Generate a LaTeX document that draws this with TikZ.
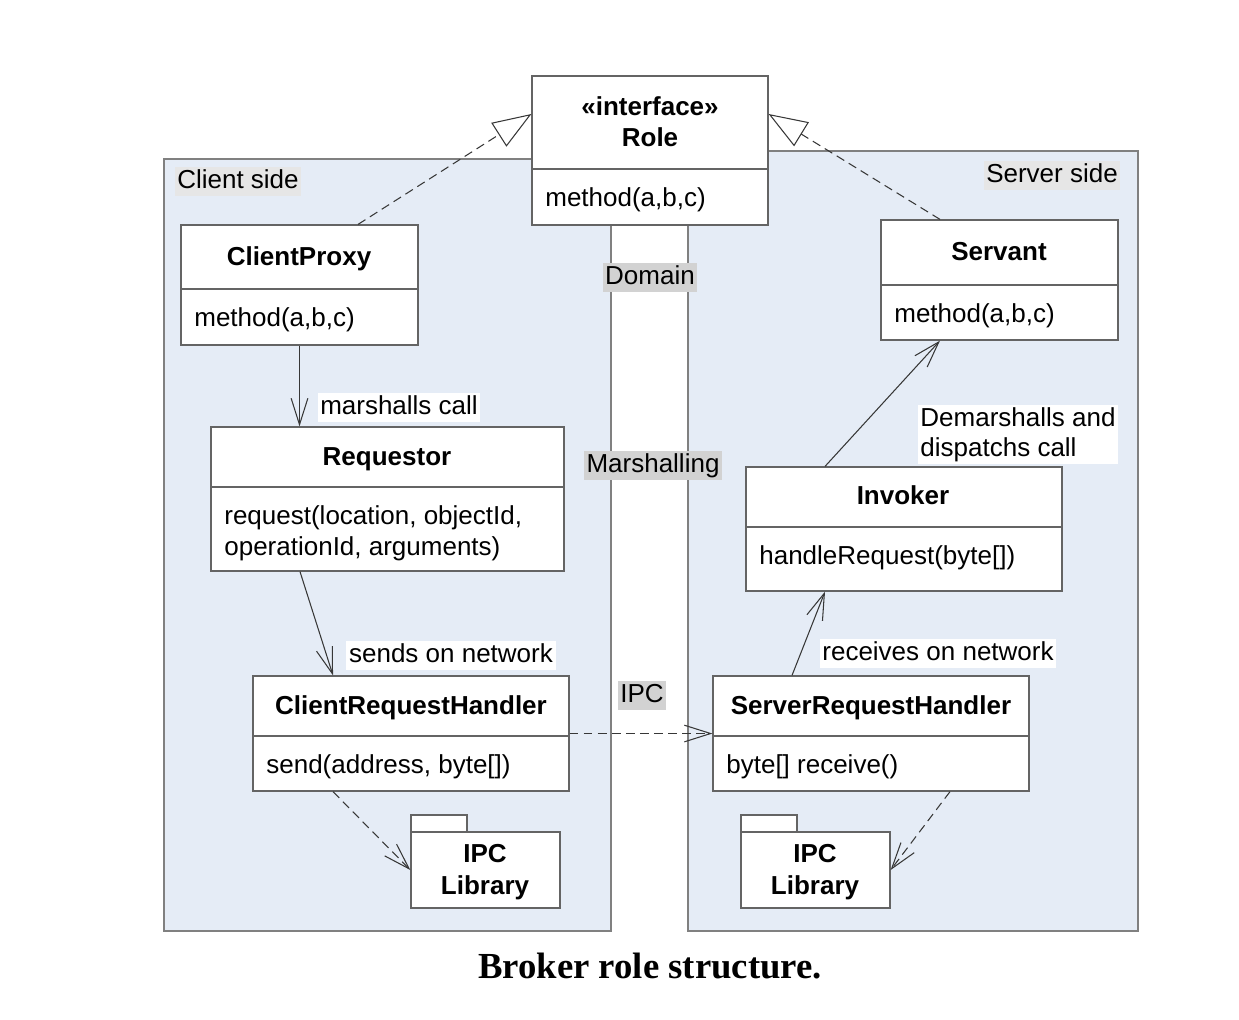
\documentclass[tikz,border=0pt]{standalone}
\usepackage{fontspec}
\setmainfont{Liberation Sans}
\newfontfamily\capfont{Liberation Serif}
\usetikzlibrary{arrows.meta,fit,calc}
\definecolor{panelblue}{RGB}{229,236,246}
\definecolor{panelline}{RGB}{128,128,128}
\definecolor{boxline}{RGB}{100,100,100}
\definecolor{conncol}{RGB}{55,55,55}
\definecolor{lblgray}{RGB}{210,210,210}
\definecolor{sidegray}{RGB}{230,230,230}
\begin{document}
\begin{tikzpicture}[x=0.02cm,y=-0.02cm,
  font=\fontsize{14.8}{17.8}\selectfont,
  panel/.style={draw=panelline, fill=panelblue, line width=0.7pt, inner sep=0pt},
  cls/.style={draw=boxline, fill=white, line width=0.7pt, inner sep=0pt},
  divline/.style={draw=boxline, line width=0.7pt},
  ttl/.style={font=\fontsize{14.8}{17.8}\selectfont\bfseries, anchor=mid, inner sep=0pt, yshift=-2.8pt},
  meth/.style={anchor=mid west, inner sep=0pt, yshift=-2.8pt},
  tagbox/.style={inner xsep=1.5pt, inner ysep=0.5pt, text height=11.8pt, text depth=3.8pt, yshift=-1pt},
  sidelbl/.style={tagbox, fill=sidegray},
  bandlbl/.style={tagbox, fill=lblgray},
  notelbl/.style={tagbox, fill=white},
  connline/.style={draw=conncol, line width=0.6pt},
  realize/.style={connline, dash pattern=on 5pt off 3pt, -{Triangle[open, length=22pt, width=16pt]}},
  callarrow/.style={connline, -{Straight Barb[length=15pt, width=9.5pt]}},
  deparrow/.style={connline, dash pattern=on 5pt off 3pt, -{Straight Barb[length=15pt, width=9.5pt]}},
]
\useasboundingbox (0,0) rectangle (1239,1019);

% panels
\node[panel, fit={(164,159) (611,931)}] (client) {};
\node[panel, fit={(688,151) (1138,931)}] (server) {};
\node[sidelbl] (clientlbl) at (238,180) {Client side};
\node[sidelbl] (serverlbl) at (1052,174) {Server side};

% band labels
\node[bandlbl] (domain) at (650,276) {Domain};
\node[bandlbl] (marsh) at (653,464) {Marshalling};
\node[bandlbl] (ipc) at (642,694) {IPC};

% Role
\node[cls, fit={(532,76) (768,225)}] (role) {};
\draw[divline] (532,169) -- (768,169);
\node[ttl] (roleS) at (650,106) {«interface»};
\node[ttl] (roleN) at (650,137) {Role};
\node[meth] (roleM) at (545,197) {method(a,b,c)};

% ClientProxy
\node[cls, fit={(181,225) (418,345)}] (cp) {};
\draw[divline] (181,289) -- (418,289);
\node[ttl] (cpN) at (299,256) {ClientProxy};
\node[meth] (cpM) at (194,317) {method(a,b,c)};

% Requestor
\node[cls, fit={(211,427) (564,571)}] (req) {};
\draw[divline] (211,487) -- (564,487);
\node[ttl] (reqN) at (387,456) {Requestor};
\node[meth] (reqM1) at (224,515) {request(location, objectId,};
\node[meth] (reqM2) at (224,546) {operationId, arguments)};

% ClientRequestHandler
\node[cls, fit={(253,676) (569,791)}] (crh) {};
\draw[divline] (253,736) -- (569,736);
\node[ttl] (crhN) at (411,705) {ClientRequestHandler};
\node[meth] (crhM) at (266,764) {send(address, byte[])};

% IPC Library (client)
\node[cls, fit={(411,815) (467,832)}] (lib1tab) {};
\node[cls, fit={(411,832) (560,908)}] (lib1) {};
\node[ttl] (lib1a) at (485,853) {IPC};
\node[ttl] (lib1b) at (485,885) {Library};

% Servant
\node[cls, fit={(881,220) (1118,340)}] (serv) {};
\draw[divline] (881,285) -- (1118,285);
\node[ttl] (servN) at (999,251) {Servant};
\node[meth] (servM) at (894,313) {method(a,b,c)};

% Invoker
\node[cls, fit={(746,467) (1062,591)}] (inv) {};
\draw[divline] (746,527) -- (1062,527);
\node[ttl] (invN) at (903,495) {Invoker};
\node[meth] (invM) at (759,555) {handleRequest(byte[])};

% ServerRequestHandler
\node[cls, fit={(713,676) (1029,791)}] (srh) {};
\draw[divline] (713,736) -- (1029,736);
\node[ttl] (srhN) at (871,705) {ServerRequestHandler};
\node[meth] (srhM) at (726,764) {byte[] receive()};

% IPC Library (server)
\node[cls, fit={(741,815) (797,832)}] (lib2tab) {};
\node[cls, fit={(741,832) (890,908)}] (lib2) {};
\node[ttl] (lib2a) at (815,853) {IPC};
\node[ttl] (lib2b) at (815,885) {Library};

% connectors
\draw[realize] ($(cp.north)+(58.5,0)$) -- ($(role.west)+(0,-36.5)$);
\draw[realize] ($(serv.north)+(-59.5,0)$) -- ($(role.east)+(0,-36.5)$);
\draw[callarrow] (cp.south) -- (cp.south |- req.north);
\draw[callarrow] ($(req.south)+(-87.5,0)$) -- ($(crh.north)+(-78,0)$);
\draw[deparrow] (crh.east) -- (srh.west);
\draw[deparrow] ($(crh.south)+(-78,0)$) -- (lib1.west);
\draw[deparrow] ($(srh.south)+(79,0)$) -- (lib2.east);
\draw[callarrow] ($(srh.north)+(-79,0)$) -- ($(inv.south)+(-79,0)$);
\draw[callarrow] ($(inv.north)+(-79,0)$) -- ($(serv.south)+(-59.5,0)$);

% connector labels
\node[notelbl] (l1) at (399,406) {marshalls call};
\node[notelbl] (l2) at (451,654) {sends on network};
\node[notelbl] (l3) at (938,652) {receives on network};
\node[fill=white, inner sep=1.5pt, align=left, font=\fontsize{14.8}{16.8}\selectfont, yshift=-1.6pt] (l4) at (1018,432) {Demarshalls and\\dispatchs call};

% caption
\node[font=\capfont\fontsize{20.9}{25}\selectfont\bfseries, anchor=base, inner sep=0pt] (cap) at (650,978) {Broker role structure.};
\end{tikzpicture}
\end{document}
